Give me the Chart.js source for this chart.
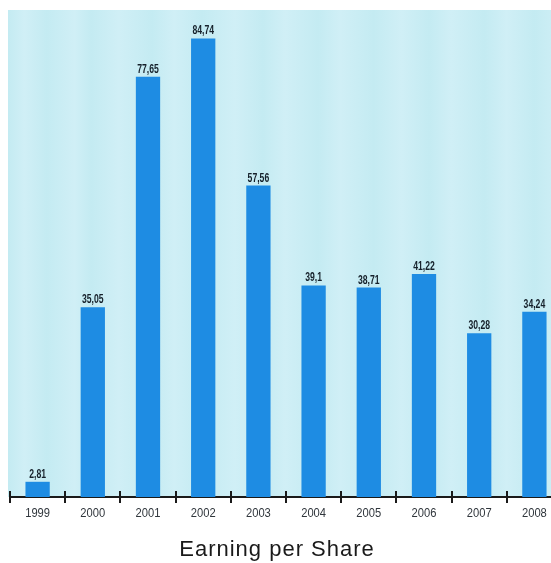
<!DOCTYPE html>
<html>
<head>
<meta charset="utf-8">
<script src="https://cdn.jsdelivr.net/npm/chart.js@4.4.1/dist/chart.umd.min.js"></script>
<style>
    html, body { margin: 0; padding: 0; background: #fff; overflow: hidden; }
    #eps-chart { display: block; }
</style>
</head>
<body>
<canvas id="eps-chart" width="562" height="563"></canvas>
<script>
const years = ['1999', '2000', '2001', '2002', '2003', '2004', '2005', '2006', '2007', '2008']
const earnings = [2.81, 35.05, 77.65, 84.74, 57.56, 39.1, 38.71, 41.22, 30.28, 34.24]
const chartTitle = 'Earning per Share'

const barColor = '#1e8ce3'
const baseFont = '"Liberation Sans", Arial, sans-serif'

// squeezed text for the small numbers (no narrow face available)
function drawNarrow(ctx, text, x, y, squeeze) {
    ctx.save()
    ctx.translate(x, y)
    ctx.scale(squeeze, 1)
    ctx.fillText(text, 0, 0)
    ctx.restore()
}

// light cyan panel with soft vertical streaks behind the bars
const panelPlugin = {
    id: 'panel',
    beforeDraw(chart) {
        const {ctx, chartArea} = chart
        const left = chartArea.left - 2
        const grad = ctx.createLinearGradient(left, 0, chartArea.right, 0)
        const stops = [0, 0.03, 0.07, 0.12, 0.15, 0.2, 0.26, 0.3, 0.35, 0.41, 0.46, 0.5, 0.56, 0.6, 0.66, 0.71, 0.76, 0.8, 0.86, 0.9, 0.95, 1]
        stops.forEach((s, i) => grad.addColorStop(s, i % 2 ? '#d0eff6' : '#c4ebf2'))
        ctx.save()
        ctx.fillStyle = grad
        ctx.fillRect(left, chartArea.top, chartArea.right - left, chartArea.bottom - chartArea.top)
        ctx.restore()
    }
}

// value labels above bars, tick marks and year labels on the axis, title underneath
const decorPlugin = {
    id: 'decor',
    afterDatasetsDraw(chart) {
        const {ctx} = chart
        const meta = chart.getDatasetMeta(0)
        ctx.save()
        ctx.font = 'bold 12px ' + baseFont
        ctx.fillStyle = '#15202a'
        ctx.textAlign = 'center'
        ctx.textBaseline = 'alphabetic'
        meta.data.forEach((bar, i) => {
            const label = String(earnings[i]).replace('.', ',')
            drawNarrow(ctx, label, bar.x, bar.y - 4, 0.72)
        })
        ctx.restore()
    },
    afterDraw(chart) {
        const {ctx, chartArea} = chart
        const xScale = chart.scales.x
        const step = xScale.getPixelForTick(1) - xScale.getPixelForTick(0)
        const axisY = chartArea.bottom
        ctx.save()
        ctx.strokeStyle = '#1a1a1a'
        ctx.lineWidth = 2
        for (let i = 0; i <= years.length; i++) {
            const x = Math.round(xScale.getPixelForTick(0) - step / 2 + i * step)
            ctx.beginPath()
            ctx.moveTo(x, axisY - 6)
            ctx.lineTo(x, axisY + 6)
            ctx.stroke()
        }

        ctx.font = '13px ' + baseFont
        ctx.fillStyle = '#30363c'
        ctx.textAlign = 'center'
        ctx.textBaseline = 'alphabetic'
        years.forEach((year, i) => {
            drawNarrow(ctx, year, xScale.getPixelForTick(i), axisY + 20, 0.86)
        })

        ctx.font = '22px ' + baseFont
        ctx.fillStyle = '#1a1a1a'
        if ('letterSpacing' in ctx) ctx.letterSpacing = '1px'
        ctx.fillText(chartTitle, 277, 556)
        ctx.restore()
    }
}

const ctx = document.getElementById('eps-chart')

new Chart(ctx, {
    type: 'bar',
    data: {
        labels: years,
        datasets: [{
            label: chartTitle,
            data: earnings,
            backgroundColor: barColor,
            borderWidth: 0,
            categoryPercentage: 1,
            barPercentage: 0.44
        }]
    },
    options: {
        responsive: false,
        animation: false,
        devicePixelRatio: 1,
        layout: {
            padding: {top: 10, left: 10, right: 0, bottom: 28}
        },
        plugins: {
            legend: {display: false},
            tooltip: {enabled: false}
        },
        scales: {
            x: {
                grid: {display: false, drawTicks: false},
                border: {display: true, color: '#1a1a1a', width: 2},
                ticks: {display: false},
                afterFit: (scale) => { scale.height = 38 }
            },
            y: {
                display: false,
                min: 0,
                max: 90
            }
        }
    },
    plugins: [panelPlugin, decorPlugin]
})
</script>
</body>
</html>
